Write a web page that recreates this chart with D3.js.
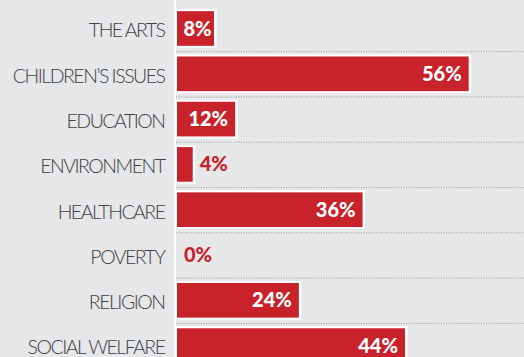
<!DOCTYPE html>
<html>
<head>
<meta charset="utf-8">
<script src="https://cdn.jsdelivr.net/npm/d3@7"></script>
<style>
  html, body { margin: 0; padding: 0; background: #e6e7e9; }
  svg { display: block; }
  .cat { font-family: "Lato", "DejaVu Sans", sans-serif; font-weight: 300; fill: #404042; }
  .val { font-family: "Lato", "DejaVu Sans", sans-serif; font-weight: 900; }
</style>
</head>
<body>
<svg id="chart" width="524" height="357"></svg>
<script>
// Share of respondents giving to each cause
const categories = ["THE ARTS", "CHILDREN\u2019S ISSUES", "EDUCATION", "ENVIRONMENT",
                    "HEALTHCARE", "POVERTY", "RELIGION", "SOCIAL WELFARE"];
const values = [8, 56, 12, 4, 36, 0, 24, 44];

const W = 524, H = 357;
const red = "#c8222b";
const axisX = 175;      // white divider between labels and bars
const barStart = 177;   // visible left edge of the bars

const svg = d3.select("#chart");

const x = d3.scaleLinear().domain([0, 56]).range([171.5, 468.7]);
const y = d3.scaleBand().domain(categories).range([5.85, 5.85 + 45.3 * categories.length])
  .paddingInner(0.235).paddingOuter(0.1175);
const gap = y.step() - y.bandwidth();

// dotted separators between rows
svg.append("g").selectAll("line")
  .data(categories.slice(1))
  .join("line")
  .attr("x1", axisX + 1).attr("x2", W)
  .attr("y1", d => y(d) - gap / 2 + 0.5)
  .attr("y2", d => y(d) - gap / 2 + 0.5)
  .attr("stroke", "#9a9b9d").attr("stroke-width", 1).attr("stroke-dasharray", "1,1.5");

// vertical divider
svg.append("line")
  .attr("x1", axisX).attr("x2", axisX).attr("y1", 0).attr("y2", H)
  .attr("stroke", "#ffffff").attr("stroke-width", 2);

const rows = svg.append("g").selectAll("g")
  .data(categories.map((c, i) => ({ c, v: values[i] })))
  .join("g");

const pos = rows.filter(d => x(d.v) > barStart);
// white outline then red fill
pos.append("rect")
  .attr("x", barStart - 1.5)
  .attr("y", d => y(d.c) - 2)
  .attr("width", d => x(d.v) - barStart + 4)
  .attr("height", y.bandwidth() + 4)
  .attr("fill", "#ffffff");
pos.append("rect")
  .attr("x", barStart)
  .attr("y", d => y(d.c))
  .attr("width", d => x(d.v) - barStart)
  .attr("height", y.bandwidth())
  .attr("fill", red);

// category labels
rows.append("text")
  .attr("class", "cat")
  .attr("x", 164.5)
  .attr("y", d => y(d.c) + y.bandwidth() / 2 + 2)
  .attr("dy", "0.35em")
  .attr("text-anchor", "end")
  .attr("font-size", 19.5)
  .attr("letter-spacing", -1.5)
  .text(d => d.c);

// value labels
rows.append("text")
  .attr("class", "val")
  .attr("font-size", 20)
  .attr("y", d => y(d.c) + y.bandwidth() / 2)
  .attr("dy", "0.35em")
  .text(d => d.v + "%")
  .each(function (d) {
    const t = d3.select(this);
    const tw = this.getComputedTextLength();
    const end = Math.max(x(d.v), barStart);
    const bw = end - barStart;
    if (bw >= tw + 14) {
      t.attr("x", end - 7).attr("text-anchor", "end").attr("fill", "#ffffff");
    } else if (bw >= tw + 4) {
      t.attr("x", barStart + bw / 2 + 2).attr("text-anchor", "middle").attr("fill", "#ffffff");
    } else {
      t.attr("x", end + 7).attr("text-anchor", "start").attr("fill", red);
    }
  });
</script>
</body>
</html>
